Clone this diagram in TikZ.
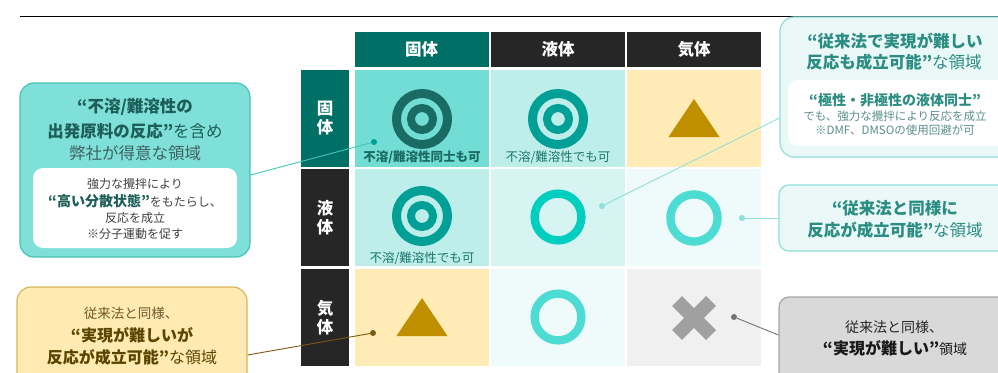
\documentclass[tikz,border=0pt]{standalone}
\usepackage{fontspec}
\setmainfont{Noto Sans CJK JP}
\definecolor{hteal}{HTML}{006F66}
\definecolor{hdark}{HTML}{262626}
\definecolor{cA}{HTML}{72DDD5}
\definecolor{cB}{HTML}{BDEEEA}
\definecolor{cC}{HTML}{FFEBB5}
\definecolor{cD}{HTML}{D5F4F2}
\definecolor{cE}{HTML}{EFFAFA}
\definecolor{cF}{HTML}{F0F0F0}
\definecolor{symDark}{HTML}{1A6B63}
\definecolor{symTeal}{HTML}{00A096}
\definecolor{symBright}{HTML}{00CFC0}
\definecolor{symLight}{HTML}{4DDCD4}
\definecolor{symGold}{HTML}{C08F00}
\definecolor{symGrey}{HTML}{A0A0A0}
\definecolor{lblTeal}{HTML}{1B776D}
\definecolor{txDark}{HTML}{1D5F58}
\definecolor{txTeal}{HTML}{2B8C82}
\definecolor{txSoft}{HTML}{5A8F8A}
\definecolor{txGrey}{HTML}{404040}
\definecolor{boxTeal}{HTML}{7FE0D9}
\definecolor{lnTeal}{HTML}{45C4B8}
\definecolor{boxPale}{HTML}{EAF9F8}
\definecolor{lnPale}{HTML}{8EDFD9}
\definecolor{boxYel}{HTML}{FFEAB2}
\definecolor{lnYel}{HTML}{D8B55A}
\definecolor{txBrown}{HTML}{5A4500}
\definecolor{txBrownS}{HTML}{6B5A2E}
\definecolor{lnBrown}{HTML}{7A5A10}
\definecolor{boxGrey}{HTML}{D9D9D9}
\definecolor{lnGrey}{HTML}{A6A6A6}
\newcommand{\fs}[1]{\fontsize{#1}{#1}\selectfont}
\tikzset{
  cell/.style={minimum width=134pt, minimum height=97pt, inner sep=0pt},
  hdr/.style={minimum width=134pt, minimum height=35pt, inner sep=0pt, text=white, font=\fs{16.5}\bfseries},
  rowhdr/.style={minimum width=48pt, minimum height=97pt, inner sep=0pt, text=white, align=center, font=\fontsize{16.5}{19}\selectfont\bfseries},
  lbl/.style={inner sep=0pt, font=\fs{12.5}},
  dot/.style={circle, inner sep=0pt, minimum size=6pt},
  callout/.style={rounded corners=14pt, line width=1.2pt, inner sep=0pt},
  inbox/.style={rounded corners=10pt, fill=white, inner sep=0pt},
  tx/.style={inner sep=0pt, align=center},
}
\begin{document}
\begin{tikzpicture}[x=1pt,y=-1pt]
\useasboundingbox (0,0) rectangle (998,372);
\fill[white] (0,0) rectangle (998,372);
% title rule
\coordinate (ruleL) at (20,16.5);
\coordinate (ruleR) at (998,16.5);
\draw[line width=1.5pt, black] (ruleL) -- (ruleR);

% column headers
\node[hdr, fill=hteal] (h1) at (421.5,49.5) {固体};
\node[hdr, fill=hdark] (h2) at (558,49.5) {液体};
\node[hdr, fill=hdark] (h3) at (694,49.5) {気体};
% row headers
\node[rowhdr, fill=hteal] (r1) at (325,118.5) {固\\体};
\node[rowhdr, fill=hdark] (r2) at (325,217.5) {液\\体};
\node[rowhdr, fill=hdark] (r3) at (325,317.5) {気\\体};
% cells
\node[cell, fill=cA] (c11) at (421.5,118.5) {};
\node[cell, fill=cB] (c12) at (558,118.5) {};
\node[cell, fill=cC] (c13) at (694,118.5) {};
\node[cell, fill=cB] (c21) at (421.5,217.5) {};
\node[cell, fill=cD] (c22) at (558,217.5) {};
\node[cell, fill=cE] (c23) at (694,217.5) {};
\node[cell, fill=cC] (c31) at (421.5,317.5) {};
\node[cell, fill=cE] (c32) at (558,317.5) {};
\node[cell, fill=cF] (c33) at (694,317.5) {};

% symbols
\draw[symDark, line width=9pt] (422,119) circle (25.5);
\draw[symDark, line width=8pt] (422,119) circle (11);
\draw[symTeal, line width=9pt] (558,119) circle (25.5);
\draw[symTeal, line width=8pt] (558,119) circle (11);
\draw[symTeal, line width=9pt] (422,216) circle (25.5);
\draw[symTeal, line width=8pt] (422,216) circle (11);
\fill[symGold] (668.5,137) -- (719.5,137) -- (694,99) -- cycle;
\fill[symGold] (396.5,336) -- (447.5,336) -- (422,298) -- cycle;
\draw[symBright, line width=8.3pt] (558,217) circle (23.4);
\draw[symLight, line width=8.3pt] (694,218) circle (23.6);
\draw[symLight, line width=8.3pt] (558,317) circle (23.4);
\draw[symGrey, line width=14pt] (677,301) -- (711,335);
\draw[symGrey, line width=14pt] (677,335) -- (711,301);

% cell labels
\node[lbl, text=symDark, font=\fs{12.5}\bfseries] (l11) at (422,157) {不溶/難溶性同士も可};
\node[lbl, text=lblTeal] (l12) at (558,157) {不溶/難溶性でも可};
\node[lbl, text=lblTeal] (l21) at (422,258) {不溶/難溶性でも可};

% ---- left top callout
\node[callout, fill=boxTeal, draw=lnTeal, minimum width=230pt, minimum height=174pt] (boxL) at (135,170) {};
\node[inbox, minimum width=204pt, minimum height=80pt] (boxLi) at (135,208) {};
\node[tx, text=txDark, font=\fs{16.5}\bfseries] (tL1) at (135,107) {“不溶/難溶性の};
\node[tx, text=txDark, font=\fs{16.5}] (tL2) at (135,131) {\textbf{出発原料の反応”}を含め};
\node[tx, text=txSoft!70!black, font=\fs{16.5}] (tL3) at (135,153) {弊社が得意な領域};
\node[tx, text=txGrey, font=\fs{12}] (tL4) at (135,184) {強力な攪拌により};
\node[tx, text=txGrey, font=\fs{12}] (tL5) at (135,201) {{\fs{14}\bfseries\color{txDark}“高い分散状態”}をもたらし、};
\node[tx, text=txGrey, font=\fs{12}] (tL6) at (135,218) {反応を成立};
\node[tx, text=txGrey, font=\fs{12}] (tL7) at (135,234) {※分子運動を促す};
\node[dot, fill=symTeal] (d11) at (374,142) {};
\draw[lnTeal, line width=0.9pt] ([yshift=-5pt]boxL.east) -- (d11);

% ---- bottom left callout
\node[callout, fill=boxYel, draw=lnYel, minimum width=230pt, minimum height=100pt] (boxY) at (132,337) {};
\node[tx, text=txBrownS, font=\fs{13.5}] (tY1) at (131,313) {従来法と同様、};
\node[tx, text=txBrown, font=\fs{16}\bfseries] (tY2) at (132,335) {“実現が難しいが};
\node[tx, text=txBrown, font=\fs{16}] (tY3) at (132,357) {\textbf{反応が成立可能”}な領域};
\node[dot, fill=lnBrown] (d31) at (373,333) {};
\draw[lnBrown, line width=0.9pt] ([yshift=-18pt]boxY.east) -- (d31);

% ---- top right callout
\node[callout, fill=boxPale, draw=lnPale, minimum width=234pt, minimum height=140pt] (boxTR) at (897,87) {};
\node[inbox, minimum width=218pt, minimum height=66pt] (boxTRi) at (897,113) {};
\node[tx, text=txTeal, font=\fs{16.5}\bfseries] (tT1) at (895,41) {“従来法で実現が難しい};
\node[tx, text=txTeal, font=\fs{16.5}] (tT2) at (894,62) {\textbf{反応も成立可能”}な領域};
\node[tx, text=txTeal, font=\fs{14}\bfseries] (tT3) at (895,100) {“極性・非極性の液体同士”};
\node[tx, text=txSoft, font=\fs{11.5}] (tT4) at (895,116) {でも、強力な攪拌により反応を成立};
\node[tx, text=txSoft, font=\fs{11.5}] (tT5) at (895,130) {※DMF、DMSOの使用回避が可};
\node[dot, fill=lnPale] (d22) at (602,206) {};
\draw[lnPale, line width=0.9pt] ([yshift=-31pt]boxTR.west) -- (d22);

% ---- mid right callout
\node[callout, rounded corners=10pt, fill=boxPale, draw=lnPale, minimum width=234pt, minimum height=66pt] (boxMR) at (896,218) {};
\node[tx, text=txTeal, font=\fs{16.5}\bfseries] (tM1) at (895,208) {“従来法と同様に};
\node[tx, text=txTeal, font=\fs{16.5}] (tM2) at (895,230) {\textbf{反応が成立可能”}な領域};
\node[dot, fill=lnPale] (d23) at (742,218) {};
\draw[lnPale, line width=0.9pt] (d23) -- (boxMR.west);

% ---- bottom right callout
\node[callout, rounded corners=10pt, fill=boxGrey, draw=lnGrey, minimum width=234pt, minimum height=92pt] (boxG) at (896,343) {};
\node[tx, text=black!85, font=\fs{14}] (tG1) at (894,327) {従来法と同様、};
\node[tx, text=black!90, font=\fs{14}] (tG2) at (895,348) {{\fs{16}\bfseries“実現が難しい”}領域};
\node[dot, fill=black!55] (d33) at (734,317) {};
\draw[black!55, line width=0.9pt] (d33) -- ([yshift=8pt]boxG.west);
\end{tikzpicture}
\end{document}
